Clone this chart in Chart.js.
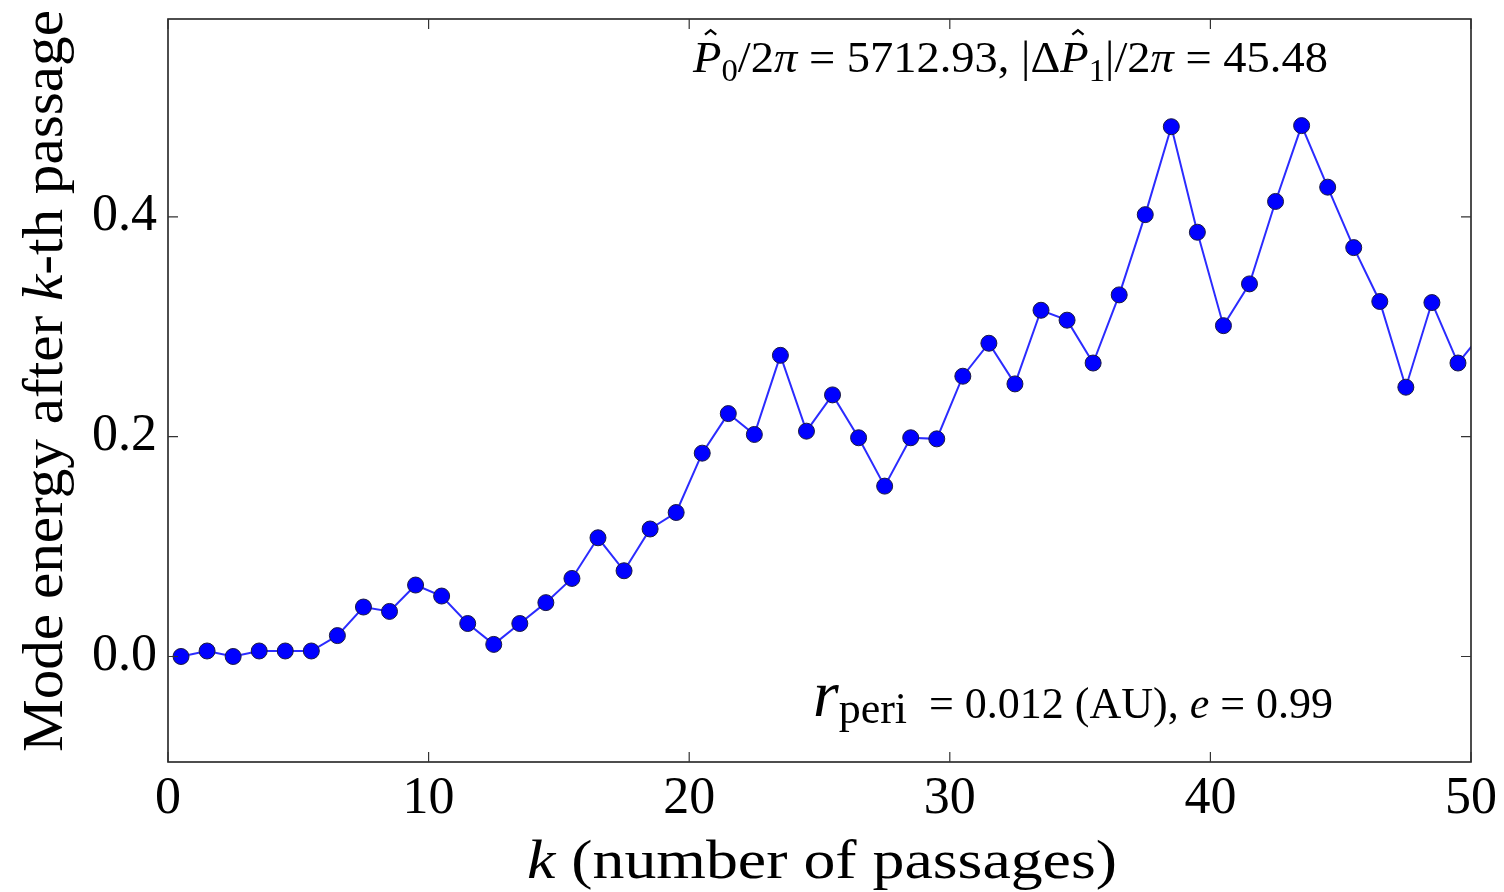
<!DOCTYPE html>
<html>
<head>
<meta charset="utf-8">
<title>Mode energy after k-th passage</title>
<script src="https://cdn.jsdelivr.net/npm/chart.js@4.4.1/dist/chart.umd.min.js"></script>
<style>
  html, body { margin: 0; padding: 0; background: #fff; }
  #wrap { width: 1504px; height: 892px; position: relative; }
</style>
</head>
<body>
<div id="wrap"><canvas id="energyChart"></canvas></div>
<script>
// passage index (plotted at mid-passage) and mode energy after each passage
const passages = [0.5, 1.5, 2.5, 3.5, 4.5, 5.5, 6.5, 7.5, 8.5, 9.5,
  10.5, 11.5, 12.5, 13.5, 14.5, 15.5, 16.5, 17.5, 18.5, 19.5,
  20.5, 21.5, 22.5, 23.5, 24.5, 25.5, 26.5, 27.5, 28.5, 29.5,
  30.5, 31.5, 32.5, 33.5, 34.5, 35.5, 36.5, 37.5, 38.5, 39.5,
  40.5, 41.5, 42.5, 43.5, 44.5, 45.5, 46.5, 47.5, 48.5, 49.5, 50.5];
const modeEnergy = [0.000, 0.005, 0.000, 0.005, 0.005, 0.005, 0.019, 0.045, 0.041, 0.065,
  0.055, 0.030, 0.011, 0.030, 0.049, 0.071, 0.108, 0.078, 0.116, 0.131,
  0.185, 0.221, 0.202, 0.274, 0.205, 0.238, 0.199, 0.155, 0.199, 0.198,
  0.255, 0.285, 0.248, 0.315, 0.306, 0.267, 0.329, 0.402, 0.482, 0.386,
  0.301, 0.339, 0.414, 0.483, 0.427, 0.372, 0.323, 0.245, 0.322, 0.267, 0.296];

const xTicks = [0, 10, 20, 30, 40, 50];
const yTicks = [0.0, 0.2, 0.4];

const SERIF = '"Liberation Serif", "DejaVu Serif", serif';

// draw a run of text pieces (italic, sub/superscript, hats) squeezed to a given width
function drawRich(ctx, segs, x, baseline, width, size) {
  const fontFor = s => (s.it ? 'italic ' : '') + Math.round(size * (s.rel || 1)) + 'px ' + SERIF;
  let total = 0;
  segs.forEach(s => { ctx.font = fontFor(s); s.w = ctx.measureText(s.t).width; total += s.w; });
  const sx = width ? width / total : 1;
  ctx.save();
  ctx.translate(x, baseline);
  ctx.scale(sx, 1);
  ctx.fillStyle = '#000';
  ctx.strokeStyle = '#000';
  ctx.textBaseline = 'alphabetic';
  ctx.textAlign = 'left';
  let cx = 0;
  segs.forEach(s => {
    ctx.font = fontFor(s);
    const dy = (s.dy || 0) * size;
    ctx.fillText(s.t, cx, dy);
    if (s.hat) {
      // small circumflex over the glyph
      const mid = cx + s.w * 0.62;
      const top = dy - size * 0.95;
      ctx.beginPath();
      ctx.lineWidth = size * 0.05;
      ctx.moveTo(mid - size * 0.12, top + size * 0.1);
      ctx.lineTo(mid, top);
      ctx.lineTo(mid + size * 0.12, top + size * 0.1);
      ctx.stroke();
    }
    cx += s.w;
  });
  ctx.restore();
}

// frame, inward ticks, axis titles and the two text annotations
const decorations = {
  id: 'decorations',
  afterDraw(chart) {
    const { ctx, chartArea: a, scales } = chart;
    ctx.save();
    ctx.strokeStyle = '#222';
    ctx.lineWidth = 1.6;
    ctx.strokeRect(a.left, a.top, a.right - a.left, a.bottom - a.top);

    ctx.lineWidth = 1.2;
    ctx.strokeStyle = '#333';
    const tl = 10;
    ctx.beginPath();
    xTicks.forEach(v => {
      const px = scales.x.getPixelForValue(v);
      ctx.moveTo(px, a.bottom); ctx.lineTo(px, a.bottom - tl);
      ctx.moveTo(px, a.top); ctx.lineTo(px, a.top + tl);
    });
    yTicks.forEach(v => {
      const py = scales.y.getPixelForValue(v);
      ctx.moveTo(a.left, py); ctx.lineTo(a.left + tl, py);
      ctx.moveTo(a.right, py); ctx.lineTo(a.right - tl, py);
    });
    ctx.stroke();

    // y axis title, rotated
    ctx.save();
    ctx.translate(62, 752);
    ctx.rotate(-Math.PI / 2);
    drawRich(ctx, [
      { t: 'Mode energy after ' }, { t: 'k', it: true }, { t: '-th passage' }
    ], 0, 0, 742, 56);
    ctx.restore();

    // x axis title
    drawRich(ctx, [
      { t: 'k', it: true }, { t: ' (number of passages)' }
    ], 527, 878, 590, 54);

    // parameters at the top
    drawRich(ctx, [
      { t: 'P', it: true, hat: true }, { t: '0', rel: 0.7, dy: 0.2 }, { t: '/2' }, { t: 'π', it: true },
      { t: ' = 5712.93, |Δ' }, { t: 'P', it: true, hat: true }, { t: '1', rel: 0.7, dy: 0.2 },
      { t: '|/2' }, { t: 'π', it: true }, { t: ' = 45.48' }
    ], 693, 72, 635, 44);

    // orbit parameters at the bottom
    drawRich(ctx, [
      { t: 'r', it: true, rel: 1.5, dy: -0.05 }, { t: 'peri', dy: 0.12 },
      { t: '  = 0.012 (AU), ' }, { t: 'e', it: true }, { t: ' = 0.99' }
    ], 813, 718, 520, 44);
    ctx.restore();
  }
};

const points = passages.map((k, i) => ({ x: k, y: modeEnergy[i] }));

// keep the plot box exactly where the layout padding puts it
const noScalePadding = s => { s.paddingTop = 0; s.paddingBottom = 0; s.paddingLeft = 0; s.paddingRight = 0; };

new Chart(document.getElementById('energyChart'), {
  type: 'line',
  data: {
    datasets: [{
      data: points,
      borderColor: 'rgba(20, 20, 255, 0.9)',
      borderWidth: 2,
      pointRadius: 8,
      pointBackgroundColor: '#0000ff',
      pointBorderColor: '#1a1a40',
      pointBorderWidth: 1,
      tension: 0,
      fill: false,
      clip: 0
    }]
  },
  options: {
    responsive: true,
    maintainAspectRatio: false,
    animation: false,
    layout: { padding: { top: 19, right: 33, left: 0, bottom: 0 } },
    plugins: { legend: { display: false }, tooltip: { enabled: false } },
    scales: {
      x: {
        type: 'linear',
        min: 0,
        max: 50,
        grid: { display: false, drawTicks: false },
        border: { display: false },
        afterBuildTicks: s => { s.ticks = xTicks.map(v => ({ value: v })); },
        afterFit: s => { s.height = 130; noScalePadding(s); },
        ticks: {
          padding: 6,
          color: '#000',
          font: { family: SERIF, size: 52 },
          maxRotation: 0,
          callback: v => String(v)
        }
      },
      y: {
        min: -0.096,
        max: 0.58,
        grid: { display: false, drawTicks: false },
        border: { display: false },
        afterBuildTicks: s => { s.ticks = yTicks.map(v => ({ value: v })); },
        afterFit: s => { s.width = 168; noScalePadding(s); },
        ticks: {
          padding: 11,
          color: '#000',
          font: { family: SERIF, size: 52 },
          callback: v => v.toFixed(1)
        }
      }
    }
  },
  plugins: [decorations]
});
</script>
</body>
</html>
